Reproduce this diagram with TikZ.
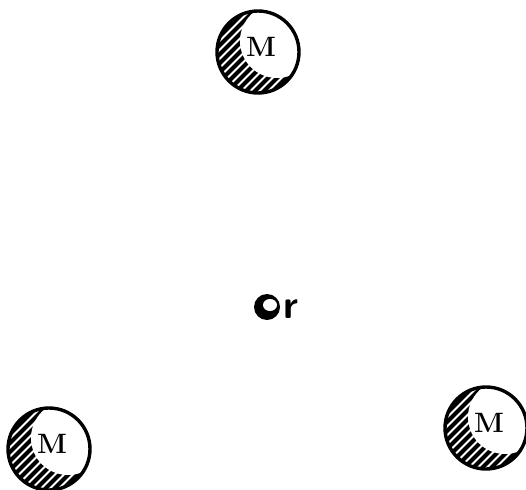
\documentclass[tikz,border=0pt]{standalone}
\usepackage{fontspec}
\begin{document}
\begin{tikzpicture}[x=1pt,y=-1pt]
\useasboundingbox (0,0) rectangle (526,489);
\tikzset{
  mass/.style={circle, draw, line width=3.4pt, minimum size=82pt, inner sep=0pt},
  mlabel/.style={font=\bfseries\fontsize{28}{28}\selectfont, inner sep=0pt},
  hatch/.style={line width=4pt},
  probe/.style={circle, fill=black, minimum size=26pt, inner sep=0pt},
  plabel/.style={font=\bfseries\sffamily\fontsize{40}{40}\selectfont, inner sep=0pt}
}
\foreach \n/\x/\y in {t/258/52, l/49/449, r/486/428} {
  \begin{scope}
    \clip (\x,\y) circle (41);
    \foreach \k in {-14,...,14} \draw[hatch] (\x+\k*9-60,\y+60) -- ++(120,-120);
    \fill[white] (\x+19,\y-11) circle (37);
  \end{scope}
  \node[mass] (\n) at (\x,\y) {};
  \node[mlabel] (\n M) at (\x+3,\y-5) {M};
}
\node[probe] (p) at (267,307) {};
\fill[white] (p.center) ++(3,-2) ellipse (7 and 6);
\node[plabel, anchor=west] (pl) at ([xshift=3pt,yshift=-2pt]p.east) {r};
\end{tikzpicture}
\end{document}
